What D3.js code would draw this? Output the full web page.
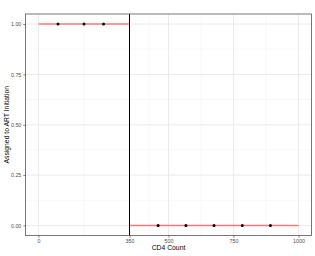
<!DOCTYPE html>
<html><head><meta charset="utf-8">
<script src="https://cdn.jsdelivr.net/npm/d3@7"></script>
<style>body{margin:0;background:#fff}svg{display:block}text{font-family:"Liberation Sans",Arial,sans-serif}</style>
</head><body>
<svg id="c" width="315" height="256"></svg>
<script>
const xTicks = [0, 350, 500, 750, 1000];
const xMinor = [175, 425, 625, 875];
const yTicks = [0, 0.25, 0.5, 0.75, 1];
const yMinor = [0.125, 0.375, 0.625, 0.875];
const segX = [[0, 350], [350, 1000]];
const segY = [1, 0];
const cutoff = 350;
const pointsX = [75, 175, 250, 460, 567, 675, 784, 892];
const pointsY = [1, 1, 1, 0, 0, 0, 0, 0];
const xTitle = "CD4 Count";
const yTitle = "Assigned to ART Initiation";

const svg = d3.select("#c");
const L = 25.5, R = 311.5, T = 14, B = 235.5;
const x = d3.scaleLinear().domain([-50, 1050]).range([L, R]);
const y = d3.scaleLinear().domain([-0.05, 1.05]).range([B, T]);

const g = svg.append("g");
g.selectAll(".xm").data(xMinor).enter().append("line")
  .attr("x1", d => x(d)).attr("x2", d => x(d)).attr("y1", T).attr("y2", B)
  .attr("stroke", "#f3f3f3").attr("stroke-width", 0.6);
g.selectAll(".ym").data(yMinor).enter().append("line")
  .attr("y1", d => y(d)).attr("y2", d => y(d)).attr("x1", L).attr("x2", R)
  .attr("stroke", "#f3f3f3").attr("stroke-width", 0.6);
g.selectAll(".xM").data(xTicks).enter().append("line")
  .attr("x1", d => x(d)).attr("x2", d => x(d)).attr("y1", T).attr("y2", B)
  .attr("stroke", "#ebebeb").attr("stroke-width", 1);
g.selectAll(".yM").data(yTicks).enter().append("line")
  .attr("y1", d => y(d)).attr("y2", d => y(d)).attr("x1", L).attr("x2", R)
  .attr("stroke", "#ebebeb").attr("stroke-width", 1);

g.selectAll(".seg").data(segX).enter().append("line")
  .attr("x1", (d) => x(d[0])).attr("x2", d => x(d[1]))
  .attr("y1", (d, i) => y(segY[i])).attr("y2", (d, i) => y(segY[i]))
  .attr("stroke", "#ff0000").attr("stroke-opacity", 0.5).attr("stroke-width", 1.6);

g.append("line").attr("x1", x(cutoff)).attr("x2", x(cutoff)).attr("y1", T).attr("y2", B)
  .attr("stroke", "#000").attr("stroke-width", 1);

g.selectAll(".pt").data(pointsX).enter().append("circle")
  .attr("cx", d => x(d)).attr("cy", (d, i) => y(pointsY[i])).attr("r", 1.5)
  .attr("fill", "#000");

g.append("rect").attr("x", L).attr("y", T).attr("width", R - L).attr("height", B - T)
  .attr("fill", "none").attr("stroke", "#555").attr("stroke-width", 0.8);

const xa = svg.append("g").attr("transform", `translate(0,${B})`)
  .call(d3.axisBottom(x).tickValues(xTicks).tickSize(2.2).tickPadding(2).tickFormat(d3.format("d")));
const ya = svg.append("g").attr("transform", `translate(${L},0)`)
  .call(d3.axisLeft(y).tickValues(yTicks).tickSize(2.2).tickPadding(2).tickFormat(d3.format(".2f")));
[xa, ya].forEach(a => {
  a.select(".domain").remove();
  a.selectAll(".tick line").attr("stroke", "#333").attr("stroke-width", 0.6);
  a.selectAll("text").attr("fill", "#4d4d4d").style("font-size", "5.3px")
    .style("font-family", '"Liberation Sans",Arial,sans-serif');
});

svg.append("text").attr("x", (L + R) / 2).attr("y", 250).attr("text-anchor", "middle")
  .style("font-size", "6.8px").attr("fill", "#000").text(xTitle);
svg.append("text").attr("transform", `translate(9,${(T + B) / 2}) rotate(-90)`)
  .attr("text-anchor", "middle").style("font-size", "6.8px").attr("fill", "#000").text(yTitle);
</script>
</body></html>
